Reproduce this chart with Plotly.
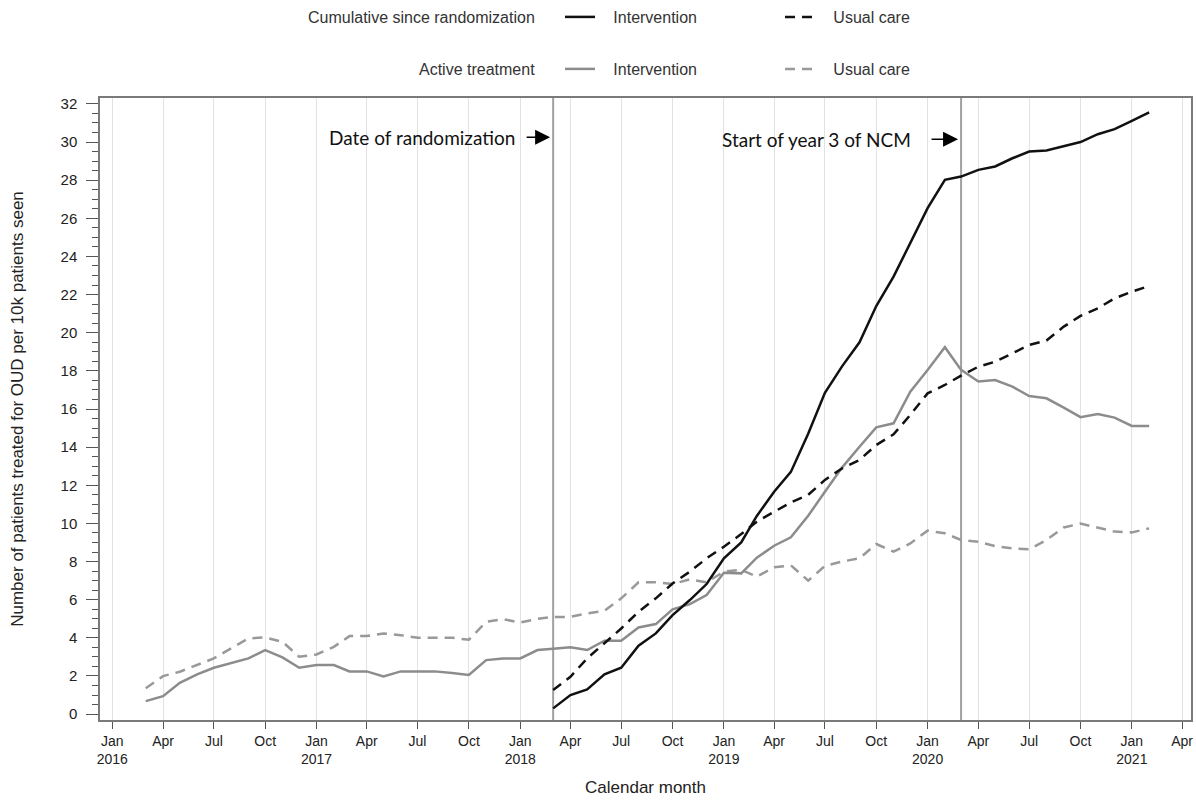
import pandas as pd
import plotly.graph_objects as go

# ---------------- data (monthly, points at first of month) ----------------
active_start = "2016-03-01"
active_intervention = [0.68, 0.94, 1.64, 2.08, 2.43, 2.66, 2.92, 3.36, 2.97, 2.43, 2.57, 2.57, 2.24,
                       2.24, 1.98, 2.24, 2.24, 2.24, 2.15, 2.05, 2.83, 2.92, 2.92, 3.36, 3.43, 3.50,
                       3.36, 3.85, 3.85, 4.54, 4.72, 5.49, 5.77, 6.24, 7.41, 7.38, 8.20, 8.83, 9.27, 10.40,
                       11.66, 12.94, 14.02, 15.04, 15.25, 16.91, 18.05, 19.24, 18.05, 17.44, 17.52, 17.17,
                       16.68, 16.56, 16.07, 15.57, 15.74, 15.55, 15.11, 15.11]
active_usual_care = [1.35, 1.99, 2.22, 2.57, 2.92, 3.45, 3.97, 4.02, 3.79, 3.01, 3.13, 3.53, 4.09,
                     4.09, 4.23, 4.14, 4.00, 4.00, 4.00, 3.90, 4.84, 4.98, 4.80, 5.00, 5.09, 5.10,
                     5.28, 5.42, 6.07, 6.91, 6.91, 6.82, 7.07, 6.91, 7.47, 7.56, 7.21, 7.70, 7.80, 7.00,
                     7.77, 8.00, 8.17, 8.92, 8.52, 8.95, 9.62, 9.48, 9.13, 9.04, 8.81, 8.69, 8.64, 9.13,
                     9.79, 9.99, 9.79, 9.57, 9.53, 9.74]

cumulative_start = "2018-03-01"
cumulative_intervention = [0.30, 1.00, 1.29, 2.08, 2.43, 3.59, 4.23, 5.19, 5.98, 6.82, 8.17, 9.00, 10.39,
                           11.66, 12.70, 14.70, 16.85, 18.25, 19.50, 21.40, 22.94, 24.69, 26.53, 28.02,
                           28.19, 28.54, 28.72, 29.15, 29.50, 29.56, 29.80, 30.00, 30.41, 30.68, 31.11, 31.55]
cumulative_usual_care = [1.26, 1.96, 2.92, 3.70, 4.49, 5.37, 6.07, 6.85, 7.47, 8.17, 8.78, 9.44, 10.09,
                         10.61, 11.10, 11.50, 12.28, 12.89, 13.33, 14.11, 14.67, 15.69, 16.82, 17.26,
                         17.75, 18.22, 18.48, 18.92, 19.36, 19.59, 20.32, 20.88, 21.28, 21.80, 22.15, 22.45]

tick_dates = pd.date_range("2016-01-01", "2021-04-01", freq="QS")
tick_labels = [f"{d.strftime('%b')}<br>{d.year}" if d.month == 1 else d.strftime('%b') for d in tick_dates]

randomization_date = "2018-03-01"
ncm_year3_date = "2020-03-01"

# ---------------- figure ----------------
active_x = pd.date_range(active_start, periods=len(active_intervention), freq="MS")
cum_x = pd.date_range(cumulative_start, periods=len(cumulative_intervention), freq="MS")

BLACK = "#111111"
GRAY = "#8c8c8c"
GRAY_D = "#999999"
PAD = "\u00a0\u00a0\u00a0"

fig = go.Figure()
fig.add_trace(go.Scatter(x=active_x, y=active_usual_care, mode="lines", name=PAD + "Usual care",
                         line=dict(color=GRAY_D, width=2.5, dash="10px,7px"), legend="legend2",
                         legendrank=2))
fig.add_trace(go.Scatter(x=active_x, y=active_intervention, mode="lines", name=PAD + "Intervention",
                         line=dict(color=GRAY, width=2.5), legend="legend2", legendrank=1))
fig.add_trace(go.Scatter(x=cum_x, y=cumulative_usual_care, mode="lines", name=PAD + "Usual care",
                         line=dict(color=BLACK, width=2.5, dash="10px,7px"), legend="legend",
                         legendrank=2))
fig.add_trace(go.Scatter(x=cum_x, y=cumulative_intervention, mode="lines", name=PAD + "Intervention",
                         line=dict(color=BLACK, width=2.5), legend="legend", legendrank=1))

for d in (randomization_date, ncm_year3_date):
    fig.add_shape(type="line", xref="x", yref="paper", x0=d, x1=d, y0=0, y1=1,
                  line=dict(color="#a0a0a0", width=2), layer="between")

ann_font = dict(family="Lato, Carlito, sans-serif", size=19, color="#111111")
# (date, text, y, text shift, arrow length)
for d, txt, yv, tshift, alen in ((randomization_date, "Date of randomization", 30.25, -36, -28),
                                 (ncm_year3_date, "Start of year 3 of NCM", 30.15, -48, -31)):
    fig.add_annotation(x=d, y=yv, xref="x", yref="y", text="", showarrow=True,
                       ax=alen, ay=0, axref="pixel", ayref="pixel", arrowhead=2, arrowsize=2.0,
                       arrowwidth=1.5, arrowcolor="#000000", standoff=3)
    fig.add_annotation(x=d, y=yv, xref="x", yref="y", text=txt, showarrow=False,
                       xanchor="right", yanchor="middle", xshift=tshift, font=ann_font)

leg_font = dict(family="Liberation Sans, Arial, sans-serif", size=16, color="#333333")
fig.add_annotation(x=0.4007, y=1.1302, xref="paper", yref="paper",
                   text="Cumulative since randomization",
                   showarrow=False, xanchor="right", yanchor="middle", font=leg_font)
fig.add_annotation(x=0.4007, y=1.0466, xref="paper", yref="paper",
                   text="Active treatment",
                   showarrow=False, xanchor="right", yanchor="middle", font=leg_font)

legend_common = dict(orientation="h", xanchor="left", yanchor="middle", font=leg_font,
                     bgcolor="rgba(0,0,0,0)", entrywidth=175, entrywidthmode="pixels",
                     itemwidth=30, tracegroupgap=0, xref="container", yref="container")

fig.update_layout(
    width=1196, height=800,
    margin=dict(l=100, r=3, t=98, b=80),
    paper_bgcolor="white", plot_bgcolor="white",
    font=dict(family="Liberation Sans, Arial, sans-serif", size=14, color="#222222"),
    legend=dict(x=560 / 1196, y=1 - 17 / 800, **legend_common),
    legend2=dict(x=560 / 1196, y=1 - 69 / 800, **legend_common),
    xaxis=dict(type="date", range=["2015-12-10", "2021-04-17"], tickvals=tick_dates, ticktext=tick_labels,
               showgrid=True, gridcolor="#e2e2e2", gridwidth=1, ticks="outside", ticklen=7,
               tickcolor="#555555", showline=True, linecolor="#7a7a7a", linewidth=1.5, mirror=True,
               zeroline=False, tickfont=dict(size=14, color="#222222"),
               title=dict(text="Calendar month", font=dict(size=17, color="#222222"), standoff=15)),
    yaxis=dict(range=[-0.31, 32.31], tickvals=list(range(0, 33, 2)), showgrid=False, zeroline=False,
               ticks="outside", ticklen=12, tickcolor="#555555", showline=True, linecolor="#7a7a7a",
               linewidth=1.5, mirror=True, tickfont=dict(size=15, color="#222222"), ticklabelstandoff=6,
               minor=dict(dtick=0.5, ticks="outside", ticklen=6, tickcolor="#555555", showgrid=False),
               title=dict(text="Number of patients treated for OUD per 10k patients seen",
                          font=dict(size=17, color="#222222"), standoff=33)),
    showlegend=True,
)

fig.write_html("out.html", config={"displayModeBar": False},
               post_script="document.body.style.margin='0';")
